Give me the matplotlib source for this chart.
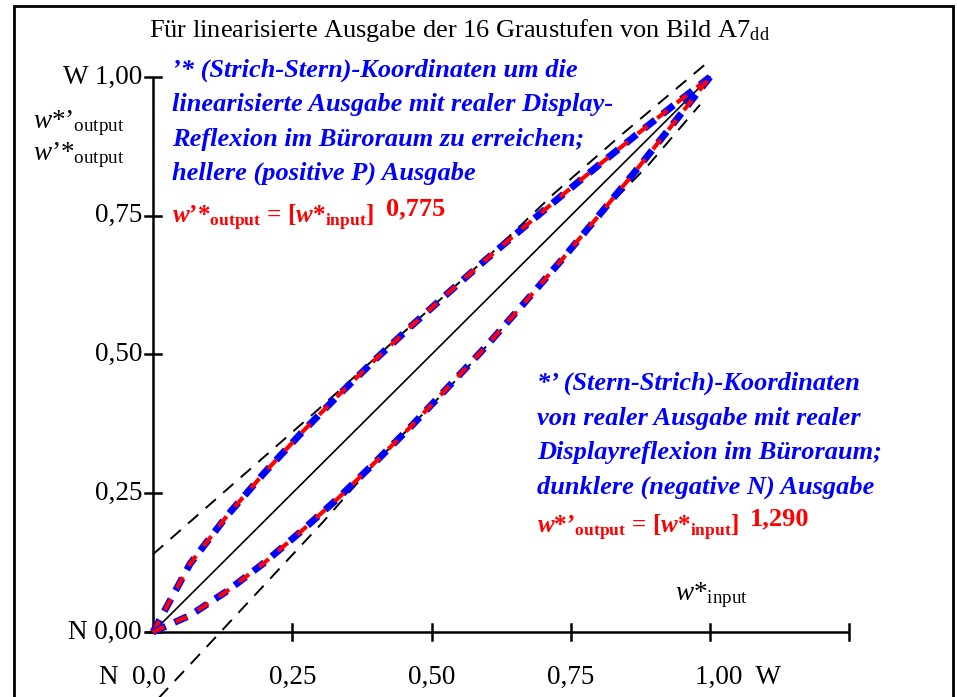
import matplotlib
matplotlib.use('Agg')
import matplotlib.pyplot as plt
from matplotlib.patches import Rectangle

plt.rcParams['font.family'] = 'Liberation Serif'
plt.rcParams['mathtext.fontset'] = 'custom'
plt.rcParams['mathtext.rm'] = 'Liberation Serif'
plt.rcParams['mathtext.it'] = 'Liberation Serif:italic'
plt.rcParams['mathtext.bf'] = 'Liberation Serif:bold'
plt.rcParams['mathtext.bfit'] = 'Liberation Serif:italic:bold'

# 16 grey steps
w_in = [0, 1/15, 2/15, 3/15, 4/15, 5/15, 6/15, 7/15, 8/15, 9/15, 10/15, 11/15, 12/15, 13/15, 14/15, 1]
w_light = [0, 0.123, 0.210, 0.287, 0.359, 0.427, 0.492, 0.554, 0.614, 0.673, 0.730, 0.786, 0.841, 0.895, 0.948, 1]
w_dark = [0, 0.030, 0.074, 0.125, 0.182, 0.242, 0.307, 0.374, 0.445, 0.517, 0.593, 0.670, 0.750, 0.831, 0.915, 1]
# dashed black limit lines
up_x = [0, 0.30, 0.45, 0.60, 0.72, 0.84, 1.0]
up_y = [0.14, 0.404, 0.54, 0.675, 0.79, 0.895, 1.03]
lo_x = [0, 0.11, 0.305, 0.40, 0.55, 0.70, 0.80, 0.889, 0.982]
lo_y = [-0.13, -0.012, 0.198, 0.306, 0.46, 0.63, 0.75, 0.841, 0.95]
xticks = [0.25, 0.5, 0.75, 1.0, 1.25]
yticks = [0, 0.25, 0.5, 0.75, 1.0]
ylabels = ['N 0,00', '0,25', '0,50', '0,75', 'W 1,00']
xlabels = ['0,25', '0,50', '0,75']

W, H = 957, 697
fig = plt.figure(figsize=(W / 100, H / 100), dpi=100)
ax = fig.add_axes([0, 0, 1, 1])
# pixel mapping: x=0 -> 153, x=1 -> 710 ; y=0 -> 632, y=1 -> 77
sx, sy = 557, 555
ax.set_xlim(-153 / sx, (W - 153) / sx)
ax.set_ylim(-(H - 632) / sy, 632 / sy)
ax.axis('off')


def pt(px, py):
    return px / W, 1 - py / H


# frame
fig.patches.append(Rectangle(pt(14, 720), (953 - 14) / W, (720 - 6) / H, transform=fig.transFigure,
                             fill=False, lw=2, ec='black', clip_on=False))

# axes lines and ticks
ax.plot([-0.015, 1.25], [0, 0], color='black', lw=1.8, solid_capstyle='butt')
ax.plot([0, 0], [0, 1], color='black', lw=1.8, solid_capstyle='butt')
for x in xticks:
    ax.plot([x, x], [-0.015, 0.015], color='black', lw=1.8)
for y in yticks:
    ax.plot([-0.015, 0.015], [y, y], color='black', lw=1.8)

# reference lines
ax.plot([0, 1], [0, 1], color='black', lw=1.2)
ax.plot(up_x, up_y, color='black', lw=1.4, dashes=(7, 5))
ax.plot(lo_x, lo_y, color='black', lw=1.4, dashes=(7, 5))

# curves
for yv in (w_light, w_dark):
    ax.plot(w_in, yv, color='blue', lw=5, dashes=(2, 1.4))
    ax.plot(w_in, yv, color='red', lw=3, dashes=(3, 3), dash_capstyle='butt')

fs = 19.5
for y, lab in zip(yticks, ylabels):
    fig.text(*pt(142, 632 - y * sy), lab, ha='right', va='center', fontsize=fs)
for x, lab in zip(xticks, xlabels):
    fig.text(*pt(153 + x * sx, 677), lab, ha='center', va='center', fontsize=fs)
fig.text(*pt(166, 677), 'N  0,0', ha='right', va='center', fontsize=fs)
fig.text(*pt(695, 677), '1,00  W', ha='left', va='center', fontsize=fs)

fig.text(*pt(459, 30), r'Für linearisierte Ausgabe der 16 Graustufen von Bild A7$_{\mathrm{dd}}$',
         ha='center', va='center', fontsize=19)
fig.text(*pt(33, 128), r'$\mathit{w}$*’$\mathrm{}_{\mathrm{output}}$', fontsize=fs)
fig.text(*pt(33, 160), r'$\mathit{w}$’*$\mathrm{}_{\mathrm{output}}$', fontsize=fs)
fig.text(*pt(675, 600), r'$\mathit{w}$*$\mathrm{}_{\mathrm{input}}$', fontsize=fs)

blue_up = ['’* (Strich-Stern)-Koordinaten um die',
           'linearisierte Ausgabe mit realer Display-',
           'Reflexion im Büroraum zu erreichen;',
           'hellere (positive P) Ausgabe']
blue_lo = ['*’ (Stern-Strich)-Koordinaten',
           'von realer Ausgabe mit realer',
           'Displayreflexion im Büroraum;',
           'dunklere (negative N) Ausgabe']
for i, s in enumerate(blue_up):
    fig.text(*pt(172, 77 + i * 34.3), s, color='blue', fontsize=19, fontweight='bold', style='italic')
for i, s in enumerate(blue_lo):
    fig.text(*pt(537, 390 + i * 34.6), s, color='blue', fontsize=19, fontweight='bold', style='italic')

f_up = r'$\mathbfit{w}\mathbf{’{*}}_{\mathbf{output}}\,\mathbf{=}\,\mathbf{[}\mathbfit{w}\mathbf{{*}}_{\mathbf{input}}\mathbf{]}$'
f_lo = r'$\mathbfit{w}\mathbf{{*}’}_{\mathbf{output}}\,\mathbf{=}\,\mathbf{[}\mathbfit{w}\mathbf{{*}}_{\mathbf{input}}\mathbf{]}$'
fig.text(*pt(172, 223), f_up, color='red', fontsize=18)
fig.text(*pt(386, 215), '0,775', color='red', fontsize=19, fontweight='bold')
fig.text(*pt(537, 533), f_lo, color='red', fontsize=18)
fig.text(*pt(750, 525), '1,290', color='red', fontsize=19, fontweight='bold')

fig.savefig('out.png', dpi=100)
